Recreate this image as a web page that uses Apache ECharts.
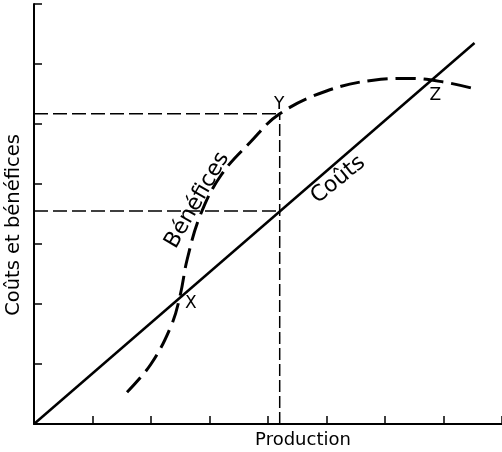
<!DOCTYPE html>
<html>
<head>
<meta charset="UTF-8" />
<title></title>
<script src="https://cdn.jsdelivr.net/npm/echarts@6/dist/echarts.min.js"></script>
<style>
  html, body { margin: 0; padding: 0; background: #fff; }
  #chart { width: 502px; height: 452px; }
</style>
</head>
<body>
<div id="chart"></div>
<script>
// data (x = production units, y = cost / benefit units)
var coutsLine = [[0, 0], [7.53, 6.35]];
var beneficesCurve = [
  [1.59, 0.53], [2.0, 1.0], [2.35, 1.65], [2.5, 2.15], [2.62, 2.75],
  [2.85, 3.5], [3.2, 4.15], [3.7, 4.7], [4.2, 5.17], [5.0, 5.55],
  [5.8, 5.73], [6.4, 5.76], [7.0, 5.7], [7.56, 5.58]
];
var prodY = 4.2;         // vertical guide through Y
var niveauY = 5.17;      // benefit level at Y
var niveauCout = 3.55;   // cost level at same production
var points = [
  { name: 'X', value: [2.68, 2.0] },
  { name: 'Y', value: [4.19, 5.33] },
  { name: 'Z', value: [6.86, 5.47] }
];
var curveLabels = [
  { name: 'Coûts', value: [5.20, 4.07], rotate: 39 },
  { name: 'Bénéfices', value: [2.79, 3.73], rotate: 60 }
];

var myChart = echarts.init(document.getElementById('chart'));
var font = 'DejaVu Sans';

myChart.setOption({
  animation: false,
  backgroundColor: '#fff',
  grid: { left: 34, right: -4, top: 4, bottom: 28 },
  xAxis: {
    type: 'value', min: 0, max: 8, interval: 1,
    axisLine: { lineStyle: { color: '#000', width: 2 } },
    axisTick: { inside: true, length: 8, lineStyle: { color: '#000', width: 1.5 } },
    axisLabel: { show: false },
    splitLine: { show: false }
  },
  yAxis: {
    type: 'value', min: 0, max: 7, interval: 1,
    axisLine: { lineStyle: { color: '#000', width: 2 } },
    axisTick: { inside: true, length: 8, lineStyle: { color: '#000', width: 1.5 } },
    axisLabel: { show: false },
    splitLine: { show: false }
  },
  graphic: [
    { type: 'text', x: 303, y: 440, style: { text: 'Production', font: '18px "' + font + '"', fill: '#000', align: 'center', verticalAlign: 'middle' } },
    { type: 'text', x: 14, y: 225, rotation: Math.PI / 2, style: { text: 'Coûts et bénéfices', font: '19.5px "' + font + '"', fill: '#000', align: 'center', verticalAlign: 'middle' } }
  ],
  series: [
    {
      name: 'Coûts', type: 'line', data: coutsLine, symbol: 'none',
      lineStyle: { color: '#000', width: 2.5 }
    },
    {
      name: 'Bénéfices', type: 'line', data: beneficesCurve, smooth: 0.4, symbol: 'none',
      lineStyle: { color: '#000', width: 3, type: [20, 8] }
    },
    {
      type: 'line', data: [[prodY, 0], [prodY, niveauY]], symbol: 'none',
      lineStyle: { color: '#000', width: 1.5, type: [12, 4] }
    },
    {
      type: 'line', data: [[0, niveauY], [prodY, niveauY]], symbol: 'none',
      lineStyle: { color: '#000', width: 1.5, type: [14, 5] }
    },
    {
      type: 'line', data: [[0, niveauCout], [prodY, niveauCout]], symbol: 'none',
      lineStyle: { color: '#000', width: 1.5, type: [14, 5] }
    },
    {
      type: 'scatter', symbolSize: 0, data: points,
      itemStyle: { opacity: 1 },
      label: {
        show: true, position: 'inside', formatter: '{b}',
        color: '#000', fontFamily: font, fontSize: 17
      }
    },
    {
      type: 'scatter', symbolSize: 0,
      itemStyle: { opacity: 1 },
      data: curveLabels.map(function (d) {
        return { name: d.name, value: d.value, label: { rotate: d.rotate } };
      }),
      label: {
        show: true, position: 'inside', formatter: '{b}',
        color: '#000', fontFamily: font, fontSize: 22
      }
    }
  ]
});
</script>
</body>
</html>
